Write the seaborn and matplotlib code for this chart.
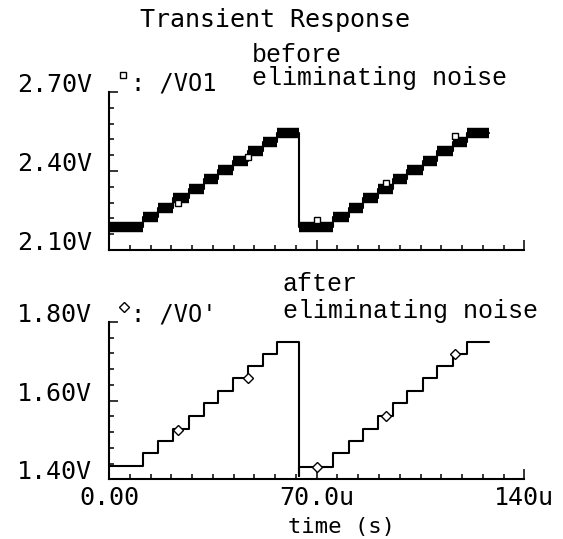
import matplotlib
matplotlib.use('Agg')
import matplotlib.pyplot as plt
from matplotlib.ticker import MultipleLocator
import numpy as np
import pandas as pd
import seaborn as sns

# ---- data (time in microseconds) ----
step_times = [0.0, 11.6, 16.6, 21.7, 27.0, 32.1, 36.8, 41.9, 46.9, 51.8, 56.7,
              64.1, 75.6, 80.9, 85.5, 90.8, 95.8, 100.5, 105.7, 110.6, 115.8, 120.5]
end_time = 128.1

vo1_levels = [2.188, 2.226, 2.261, 2.296, 2.332, 2.368, 2.404, 2.439, 2.476, 2.511, 2.546,
              2.188, 2.226, 2.261, 2.296, 2.332, 2.368, 2.404, 2.439, 2.476, 2.511, 2.546]
vo_levels = [1.434, 1.466, 1.497, 1.528, 1.562, 1.593, 1.625, 1.657, 1.689, 1.718, 1.750,
             1.432, 1.466, 1.497, 1.528, 1.562, 1.593, 1.625, 1.657, 1.689, 1.718, 1.750]
vo_dip = 1.409  # undershoot at the reset edge

marker_times = [23.3, 46.7, 70.0, 93.3, 116.7]
vo1_marks = [2.277, 2.454, 2.214, 2.356, 2.534]
vo_marks = [1.525, 1.657, 1.432, 1.562, 1.718]

x_ticks = [0, 70, 140]
x_tick_labels = ['0.00', '70.0u', '140u']
top_yticks = [2.10, 2.40, 2.70]
top_ylabels = ['2.10V', '2.40V', '2.70V']
bot_yticks = [1.40, 1.60, 1.80]
bot_ylabels = ['1.40V', '1.60V', '1.80V']

# ---- build traces ----
step_ends = step_times[1:] + [end_time]
top_df = pd.DataFrame({'t': step_times + [end_time], 'v': vo1_levels + [vo1_levels[-1]]})
i = step_times.index(64.1)
bot_df = pd.DataFrame({'t': step_times[:i] + [step_times[i]] + step_times[i:] + [end_time],
                       'v': vo_levels[:i] + [vo_dip] + vo_levels[i:] + [vo_levels[-1]]})

sns.set_style('ticks', {'text.color': 'black', 'axes.labelcolor': 'black',
                        'xtick.color': 'black', 'ytick.color': 'black'})
plt.rcParams['font.family'] = ['DejaVu Sans Mono', 'DejaVu Sans']

W, H = 563, 539
fig = plt.figure(figsize=(W / 100, H / 100), dpi=100)


def px_axes(left, right, top, bottom):
    return fig.add_axes([left / W, 1 - bottom / H, (right - left) / W, (bottom - top) / H])


ax_top = px_axes(109, 524.4, 92, 250)
ax_bot = px_axes(109, 524.4, 322, 479.3)


def style_axes(ax, ylim, yticks, ylabels, ystep, xlabels):
    ax.set_xlim(0, 140)
    ax.set_ylim(*ylim)
    for s in ['top', 'right']:
        ax.spines[s].set_visible(False)
    for s in ['left', 'bottom']:
        ax.spines[s].set_linewidth(1.5)
        ax.spines[s].set_color('black')
    ax.set_xticks(x_ticks, x_tick_labels if xlabels else [''] * 3, fontsize=18, color='black')
    ax.set_yticks(yticks, ylabels, fontsize=18, va='baseline', color='black')
    ax.xaxis.set_minor_locator(MultipleLocator(7))
    ax.yaxis.set_minor_locator(MultipleLocator(ystep))
    ax.tick_params(axis='both', which='both', bottom=True, left=True, top=False, right=False,
                   direction='in', width=1.1, color='black')
    ax.tick_params(axis='x', which='major', length=7.5, pad=5)
    ax.tick_params(axis='x', which='minor', length=3.8)
    ax.tick_params(axis='y', which='major', length=6.5, pad=12)
    ax.tick_params(axis='y', which='minor', length=3.6)
    ax.set_xlabel('')
    ax.set_ylabel('')


# top: noisy output, drawn as thick bands
ax_top.hlines(vo1_levels, step_times, step_ends, colors='black', linewidth=7.5)
sns.lineplot(data=top_df, x='t', y='v', drawstyle='steps-post', estimator=None, sort=False,
             color='black', linewidth=1.5, ax=ax_top)
ax_top.plot(marker_times, vo1_marks, ls='none', marker='s', ms=4.5, mfc='white', mec='black', mew=1)
style_axes(ax_top, (2.10, 2.70), top_yticks, top_ylabels, 0.06, False)

# bottom: clean output
sns.lineplot(data=bot_df, x='t', y='v', drawstyle='steps-post', estimator=None, sort=False,
             color='black', linewidth=1.5, ax=ax_bot)
ax_bot.plot(marker_times, vo_marks, ls='none', marker='D', ms=5.5, mfc='white', mec='black', mew=1)
style_axes(ax_bot, (1.40, 1.80), bot_yticks, bot_ylabels, 0.04, True)

# legend-ish labels
ax_top.plot([(123 - 109) / 415.4], [1.11], transform=ax_top.transAxes, clip_on=False,
            marker='s', ms=4.5, mfc='white', mec='black', mew=1)
ax_top.text(0.054, 1.01, ': /VO1', transform=ax_top.transAxes, fontsize=17, va='baseline',
            color='black')
ax_bot.plot([(124 - 109) / 415.4], [1.095], transform=ax_bot.transAxes, clip_on=False,
            marker='D', ms=5, mfc='white', mec='black', mew=1)
ax_bot.text(0.054, 1.0, ": /VO'", transform=ax_bot.transAxes, fontsize=17, va='baseline',
            color='black')


def ftext(x, y, s, **kw):
    fig.text(x / W, 1 - y / H, s, color='black', **kw)


ftext(275, 27, 'Transient Response', fontsize=18, ha='center', va='baseline')
ftext(252, 62, 'before', fontsize=18, family='Liberation Mono', va='baseline')
ftext(252, 85, 'eliminating noise', fontsize=18, family='Liberation Mono', va='baseline')
ftext(283, 291, 'after', fontsize=18, family='Liberation Mono', va='baseline')
ftext(283, 318, 'eliminating noise', fontsize=18, family='Liberation Mono', va='baseline')
ftext(342, 533, 'time (s)', fontsize=16, ha='center', va='baseline')

fig.savefig('out.png', dpi=100, facecolor='white')
